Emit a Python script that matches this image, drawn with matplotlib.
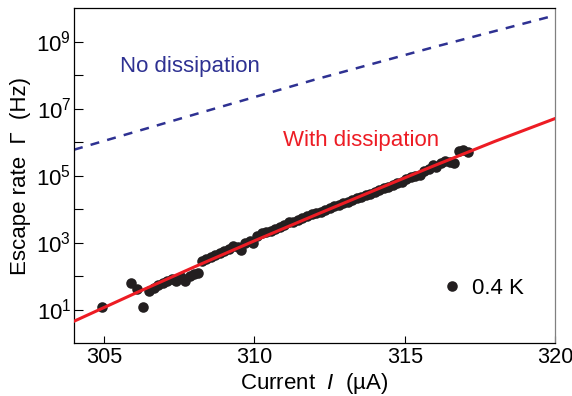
import matplotlib
matplotlib.use("Agg")
import matplotlib.pyplot as plt
import matplotlib.ticker as ticker
import numpy as np

plt.rcParams["font.family"] = ["Liberation Sans", "DejaVu Sans"]
plt.rcParams["mathtext.fontset"] = "custom"
plt.rcParams["mathtext.rm"] = "Liberation Sans"
plt.rcParams["mathtext.it"] = "Liberation Sans:italic"

BLUE = "#2e3192"
RED = "#ed1c24"
DOT = "#231f20"

# measured escape rate at 0.4 K: bias current (uA) and log10(rate / Hz)
current_uA = [
    304.92, 305.90, 306.10, 306.30, 306.50, 306.65, 306.80, 306.95, 307.10, 307.25,
    307.40, 307.55, 307.70, 307.85, 308.00, 308.12, 308.25, 308.40, 308.55, 308.70,
    308.85, 309.00, 309.15, 309.30, 309.45, 309.55, 309.70, 309.85, 309.95, 310.10,
    310.25, 310.40, 310.55, 310.70, 310.85, 311.00, 311.15, 311.30, 311.45, 311.60,
    311.75, 311.90, 312.05, 312.20, 312.35, 312.50, 312.65, 312.80, 312.95, 313.10,
    313.25, 313.40, 313.55, 313.70, 313.85, 314.00, 314.15, 314.30, 314.45, 314.60,
    314.75, 314.90, 315.05, 315.20, 315.35, 315.50, 315.65, 315.80, 315.95, 316.05,
    316.20, 316.35, 316.50, 316.65, 316.80, 316.95, 317.10,
]
log_rate = [
    1.08, 1.80, 1.60, 1.08, 1.55, 1.65, 1.72, 1.80, 1.86, 1.90,
    1.85, 1.98, 1.86, 2.00, 2.05, 2.08, 2.45, 2.50, 2.58, 2.62,
    2.68, 2.75, 2.82, 2.90, 2.88, 2.78, 3.00, 3.05, 3.00, 3.20,
    3.28, 3.30, 3.35, 3.40, 3.46, 3.52, 3.60, 3.60, 3.66, 3.74,
    3.80, 3.85, 3.88, 3.92, 3.98, 4.03, 4.08, 4.12, 4.17, 4.22,
    4.28, 4.32, 4.36, 4.42, 4.46, 4.52, 4.58, 4.62, 4.66, 4.72,
    4.78, 4.82, 4.90, 4.96, 5.00, 5.02, 5.12, 5.18, 5.30, 5.24,
    5.38, 5.44, 5.40, 5.36, 5.72, 5.76, 5.70,
]

# theory curves, log10(rate / Hz) on a current grid
theory_current = [304, 306, 308, 310, 312, 314, 316, 318, 320]
log_with_diss = [0.65, 1.47, 2.27, 3.05, 3.81, 4.56, 5.30, 6.02, 6.70]
nodiss_current = [304, 308, 312, 316, 320]
log_no_diss = [5.77, 6.82, 7.86, 8.84, 9.78]

ytick_exp = [1, 3, 5, 7, 9]
yminor_exp = [2, 4, 6, 8]
xticks = [305, 310, 315, 320]

fig = plt.figure(figsize=(5.72, 3.96), dpi=100)
ax = fig.add_axes([0.1294, 0.1338, 0.8409, 0.846])

ax.plot(nodiss_current, 10.0 ** np.array(log_no_diss), color=BLUE,
        linewidth=1.8, dashes=(3.6, 3.3), zorder=2)
ax.plot(current_uA, 10.0 ** np.array(log_rate), "o", color=DOT,
        markersize=7.6, markeredgewidth=0, label="0.4 K", zorder=3)
ax.plot(theory_current, 10.0 ** np.array(log_with_diss), color=RED,
        linewidth=2.2, zorder=4)

ax.text(305.53, 10 ** 8.26, "No dissipation", color=BLUE, fontsize=16,
        ha="left", va="center")
ax.text(310.95, 10 ** 6.04, "With dissipation", color=RED, fontsize=16,
        ha="left", va="center")

ax.set_yscale("log")
ax.set_xlim(304, 320)
ax.set_ylim(1, 1e10)

ax.yaxis.set_major_locator(ticker.FixedLocator([10.0 ** e for e in ytick_exp]))
ax.yaxis.set_minor_locator(ticker.FixedLocator([10.0 ** e for e in yminor_exp]))
ax.yaxis.set_major_formatter(ticker.FixedFormatter(
    [r"$\mathregular{10^{%d}}$" % e for e in ytick_exp]))
ax.yaxis.set_minor_formatter(ticker.NullFormatter())
ax.set_xticks(xticks)
ax.set_xticklabels([str(v) for v in xticks])

ax.tick_params(axis="y", which="both", direction="in", length=6.2, width=0.8,
               labelsize=16, pad=2)
ax.tick_params(axis="x", which="both", direction="in", length=5, width=0.8,
               labelsize=15.6, pad=3)

for side in ("left", "bottom", "top"):
    ax.spines[side].set_color("black")
    ax.spines[side].set_linewidth(0.9)
ax.spines["right"].set_color("#808080")
ax.spines["right"].set_linewidth(0.9)

ax.set_xlabel("Current  $I$  (µA)", fontsize=16, labelpad=2)
ax.set_ylabel("Escape rate  Γ  (Hz)", fontsize=16, labelpad=4)

ax.legend(loc="center left", bbox_to_anchor=(0.763, 0.164), frameon=False,
          numpoints=1, handlelength=1.0, handletextpad=0.4, borderpad=0,
          borderaxespad=0, fontsize=16)

fig.savefig("out.png", dpi=100)
